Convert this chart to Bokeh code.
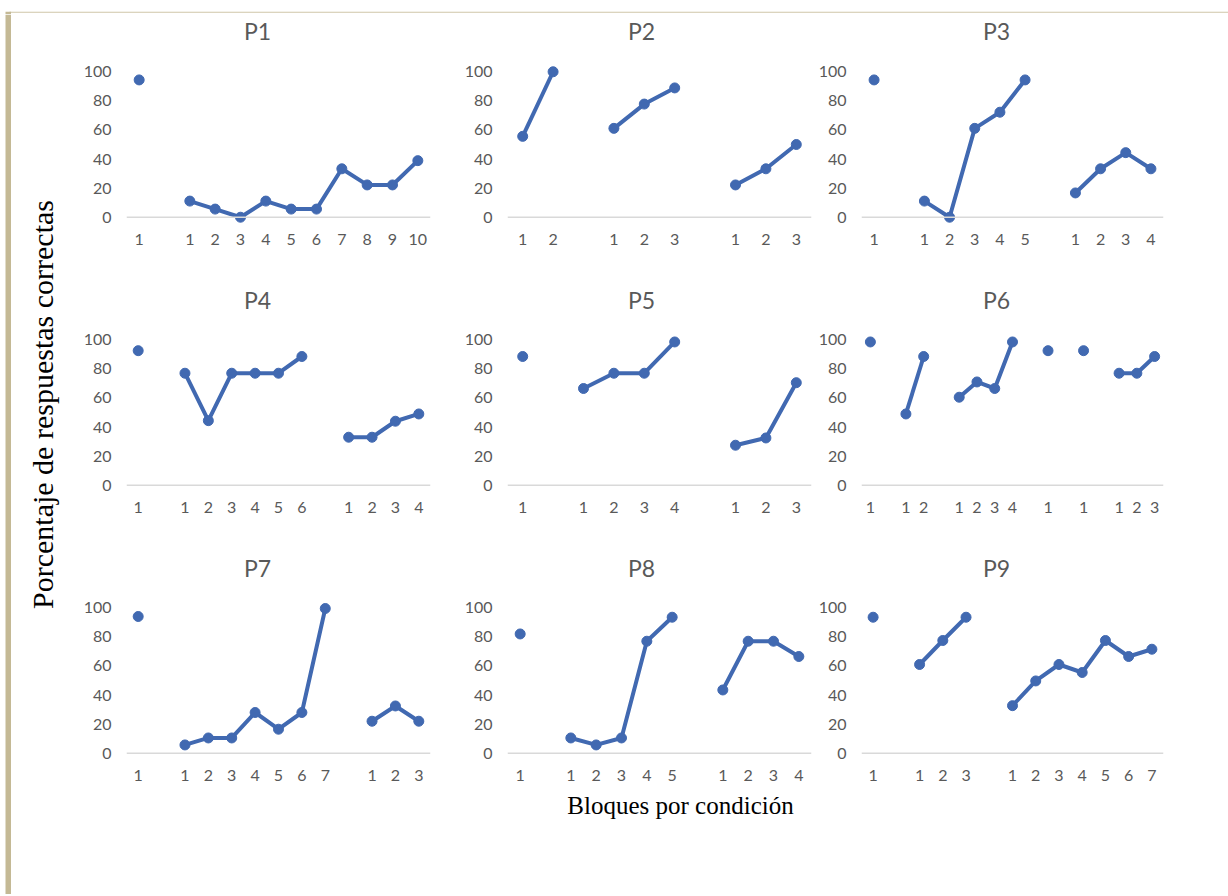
from bokeh.plotting import figure
from bokeh.layouts import row, column
from bokeh.models import Range1d, FixedTicker, Span
from bokeh.embed import file_html
from bokeh.resources import INLINE
from bokeh.core.properties import value
import math

# ---------------- data ----------------
participants = ["P1", "P2", "P3", "P4", "P5", "P6", "P7", "P8", "P9"]
p1 = [[94.4], [11.1, 5.6, 0.0, 11.1, 5.6, 5.6, 33.3, 22.2, 22.2, 38.9]]
p2 = [[55.6, 100.0], [61.1, 77.8, 88.9], [22.2, 33.3, 50.0]]
p3 = [[94.4], [11.1, 0.0, 61.1, 72.2, 94.4], [16.7, 33.3, 44.4, 33.3]]
p4 = [[92.5], [77.0, 44.4, 77.0, 77.0, 77.0, 88.5], [33.0, 33.0, 44.0, 49.0]]
p5 = [[88.5], [66.5, 77.0, 77.0, 98.5], [27.5, 32.5, 70.5]]
p6 = [[98.5], [49.0, 88.5], [60.5, 71.0, 66.5, 98.5], [92.5], [92.5], [77.0, 77.0, 88.5]]
p7 = [[94.0], [5.7, 10.5, 10.5, 28.0, 16.5, 28.0, 99.5], [22.0, 32.5, 22.0]]
p8 = [[82.0], [10.5, 5.7, 10.5, 77.0, 93.5], [43.5, 77.0, 77.0, 66.5]]
p9 = [[93.5], [61.0, 77.5, 93.5], [32.7, 49.7, 61.0, 55.5, 77.5, 66.5, 71.5]]
series = [p1, p2, p3, p4, p5, p6, p7, p8, p9]
y_ticks = [0, 20, 40, 60, 80, 100]
y_title = "Porcentaje de respuestas correctas"
x_title = "Bloques por condición"

# ---------------- style ----------------
BLUE = "#4169B1"
GREY_TXT = "#595959"
AXIS_GREY = "#D9D9D9"
TAN = "#C4B995"
TAN_LIGHT = "#CFC6A8"

TOTAL_W = 1228
TOTAL_H = 894
LEFT_W = 68
TOP_H = 14
BODY_H = TOTAL_H - TOP_H
GRID_W = TOTAL_W - LEFT_W

col_L = [58, 57, 45]
col_W = [304, 304, 302]
col_R = [20, 4, 66]
title_x = [189, 573, 928]          # title centres inside the grid area
strip_H = [40, 58, 58]             # title strip heights per row
strip_ty = [16, 35, 35]            # title centre from top of the strip
row_T = [10, 10, 10]
row_B = [40, 40, 30]
FRAME_H = 160


def blank(w, h, xr, yr):
    f = figure(width=w, height=h, x_range=Range1d(*xr), y_range=Range1d(*yr),
               output_backend="svg", toolbar_location=None,
               min_border=0, x_axis_type=None, y_axis_type=None)
    f.outline_line_color = None
    f.grid.visible = False
    f.background_fill_color = None
    f.border_fill_color = None
    return f


def panel(conds, ci, ri):
    tick_pos, tick_lab, groups = [], {}, []
    pos = 0
    for k, c in enumerate(conds):
        if k > 0:
            pos += 1
        gx = []
        for b in range(len(c)):
            tick_pos.append(pos)
            tick_lab[pos] = str(b + 1)
            gx.append(pos)
            pos += 1
        groups.append((gx, c))
    n = pos
    p = figure(frame_width=col_W[ci], frame_height=FRAME_H,
               x_range=Range1d(-0.5, n - 0.5), y_range=Range1d(-5, 105),
               output_backend="svg", toolbar_location=None,
               min_border_left=col_L[ci], min_border_right=col_R[ci],
               min_border_top=row_T[ri], min_border_bottom=row_B[ri])
    p.outline_line_color = None
    p.xgrid.visible = False
    p.ygrid.visible = False
    p.background_fill_color = None
    p.border_fill_color = None

    for ax in (p.xaxis[0], p.yaxis[0]):
        ax.axis_line_color = None
        ax.major_tick_line_color = None
        ax.minor_tick_line_color = None
        ax.major_tick_out = 0
        ax.major_tick_in = 0
        ax.minor_tick_out = 0
        ax.major_label_text_font = "Lato"
        ax.major_label_text_font_size = "16px"
        ax.major_label_text_color = GREY_TXT
    p.yaxis.ticker = FixedTicker(ticks=y_ticks)
    p.yaxis.major_label_standoff = 15
    p.xaxis.ticker = FixedTicker(ticks=tick_pos)
    p.xaxis.major_label_overrides = tick_lab
    p.xaxis.major_label_standoff = 9

    p.add_layout(Span(location=0, dimension="width", line_color=AXIS_GREY, line_width=1.3))
    for gx, gy in groups:
        if len(gx) > 1:
            p.line(gx, gy, line_color=BLUE, line_width=4, line_join="round")
        p.scatter(gx, gy, size=10, marker="circle", fill_color=BLUE, line_color=BLUE)
    return p


blocks = []
for ri in range(3):
    strip = blank(GRID_W, strip_H[ri], (0, GRID_W), (strip_H[ri], 0))
    names = participants[ri * 3: ri * 3 + 3]
    strip.text(x=title_x, y=[strip_ty[ri]] * 3, text=names,
               text_font=value("Lato"), text_font_size="23px", text_color=GREY_TXT,
               text_align="center", text_baseline="middle")
    figs = [panel(series[ri * 3 + ci], ci, ri) for ci in range(3)]
    blocks.append(strip)
    blocks.append(row(*figs))

BOTTOM_H = BODY_H - sum(strip_H) - sum(row_T) - sum(row_B) - 3 * FRAME_H

# top strip with the thin tan rule
top = blank(TOTAL_W, TOP_H, (0, TOTAL_W), (TOP_H, 0))
top.quad(left=[9], right=[TOTAL_W], top=[11.2], bottom=[12.3], fill_color=TAN_LIGHT, line_color=None)
top.quad(left=[5], right=[10.5], top=[11.2], bottom=[TOP_H], fill_color=TAN, line_color=None)

# left strip: tan bar + y title
left = blank(LEFT_W, BODY_H, (0, LEFT_W), (0, BODY_H))
left.quad(left=[5], right=[10.5], bottom=[0], top=[BODY_H], fill_color=TAN, line_color=None)
left.text(x=[42], y=[BODY_H - 390], text=[y_title], angle=math.pi / 2,
          text_font=value("Liberation Serif"), text_font_size="30px",
          text_color="#000000", text_align="center", text_baseline="middle")

# bottom strip: x title
bottom = blank(GRID_W, BOTTOM_H, (0, GRID_W), (BOTTOM_H, 0))
bottom.text(x=[612], y=[1], text=[x_title],
            text_font=value("Liberation Serif"), text_font_size="25px",
            text_color="#000000", text_align="center", text_baseline="top")

layout = column(top, row(left, column(*blocks, bottom)))

open("out.html", "w").write(file_html(layout, INLINE))
